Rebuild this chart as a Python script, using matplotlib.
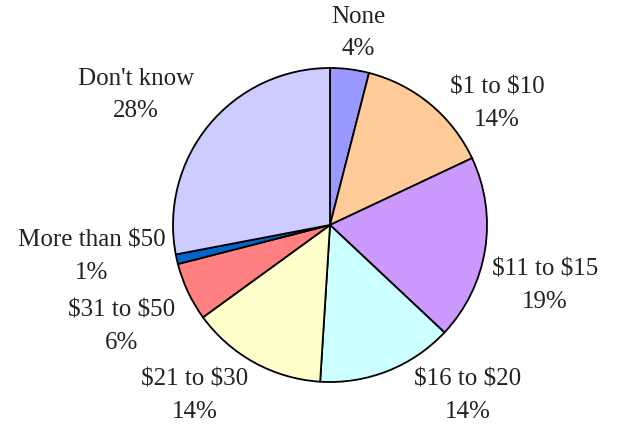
import matplotlib
matplotlib.use("Agg")
import matplotlib.pyplot as plt

# spending categories, clockwise from 12 o'clock
categories = ["None", "$1 to $10", "$11 to $15", "$16 to $20",
              "$21 to $30", "$31 to $50", "More than $50", "Don't know"]
shares = [4, 14, 19, 14, 14, 6, 1, 28]
colors = ["#9999FF", "#FFCC99", "#CC99FF", "#CCFFFF",
          "#FFFFCC", "#FF8080", "#0066CC", "#CCCCFF"]

# label anchor points (pixel space, y measured from bottom)
label_xy = [(358, 394), (497, 323), (545, 141), (468, 31),
            (195, 31), (122, 100), (92, 170), (136, 332)]

plt.rcParams['font.family'] = ['Liberation Serif', 'DejaVu Serif']

fig = plt.figure(figsize=(6.18, 4.27), dpi=100)
ax = fig.add_axes([0, 0, 1, 1])

ax.pie(shares, colors=colors, startangle=90, counterclock=False,
       center=(330, 201), radius=157, frame=True,
       wedgeprops=dict(edgecolor='black', linewidth=1.3))
ax.set_xlim(0, 618)
ax.set_ylim(0, 427)
ax.set_aspect('equal')
ax.axis('off')

for name, val, (x, y) in zip(categories, shares, label_xy):
    ax.text(x, y, f"{name}\n{val}%", ha='center', va='center',
            fontsize=18, color='#222222', linespacing=1.6,
            parse_math=False)

fig.savefig("out.png", dpi=100)
